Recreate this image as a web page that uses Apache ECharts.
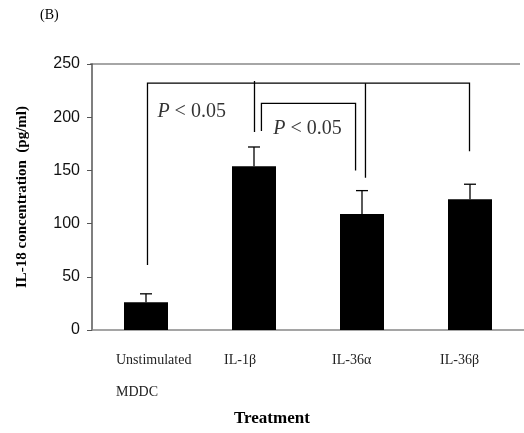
<!DOCTYPE html>
<html><head><meta charset="utf-8">
<script src="https://cdn.jsdelivr.net/npm/echarts@6/dist/echarts.min.js"></script>
<style>html,body{margin:0;background:#fff}#c{width:524px;height:433px}</style>
</head><body><div id="c"></div>
<script>
var categories = ['Unstimulated\nMDDC', 'IL-1β', 'IL-36α', 'IL-36β'];
var means = [26, 154, 109, 123];
var errTops = [34, 172, 131, 137];
var yTicks = [0, 50, 100, 150, 200, 250];
// brackets: [x in px-units across plot (0..436), value] point lists
var bracketBig = [[[56, 61], [56, 232], [381, 232], [381, 168]], [[164, 234], [164, 186]], [[276, 232], [276, 143]]];
var bracketSmall = [[[171, 187], [171, 213], [266, 213], [266, 150]]];
var pLabels = [[66, 205, 'P < 0.05'], [183, 189, 'P < 0.05']];

var myChart = echarts.init(document.getElementById('c'));
var serif = 'Liberation Serif';
var lineData = [];
bracketBig.concat(bracketSmall).forEach(function (l) { lineData.push({coords: l}); });

var option = {
    animation: false,
    grid: {left: 92, top: 64, bottom: 103, width: 436},
    xAxis: [{
        type: 'category', data: categories,
        axisLine: {lineStyle: {color: '#888', width: 1.5}},
        axisTick: {show: false},
        axisLabel: {fontFamily: serif, fontSize: 14, color: '#222', align: 'left', margin: 14, lineHeight: 32,
            padding: [0, 0, 0, -30], verticalAlign: 'top'}
    }, {
        type: 'value', min: 0, max: 436, show: false
    }],
    yAxis: {
        type: 'value', min: 0, max: 250, interval: 50,
        name: 'IL-18 concentration  (pg/ml)', nameLocation: 'middle', nameGap: 62,
        nameTextStyle: {fontFamily: serif, fontWeight: 'bold', fontSize: 15, color: '#000'},
        axisLine: {show: true, lineStyle: {color: '#555', width: 1.5}},
        axisTick: {show: true, length: 5, lineStyle: {color: '#555'}},
        axisLabel: {fontFamily: 'Liberation Sans', fontSize: 16, color: '#111', margin: 12,
            formatter: function (v) { return yTicks.indexOf(v) >= 0 ? v : ''; }},
        splitLine: {show: false}
    },
    series: [{
        type: 'bar', data: means, barWidth: 44,
        itemStyle: {color: '#000'}
    }, {
        type: 'custom',
        data: means.map(function (m, i) { return [i, m, errTops[i]]; }),
        renderItem: function (params, api) {
            var b = api.coord([api.value(0), api.value(1)]);
            var t = api.coord([api.value(0), api.value(2)]);
            var st = {stroke: '#000', lineWidth: 1.3};
            return {type: 'group', children: [
                {type: 'line', shape: {x1: b[0], y1: b[1], x2: t[0], y2: t[1]}, style: st},
                {type: 'line', shape: {x1: t[0] - 6, y1: t[1], x2: t[0] + 6, y2: t[1]}, style: st}
            ]};
        }, z: 3
    }, {
        type: 'lines', coordinateSystem: 'cartesian2d', xAxisIndex: 1, polyline: true,
        data: lineData, lineStyle: {color: '#000', width: 1.3, opacity: 1}, silent: true
    }, {
        type: 'scatter', xAxisIndex: 1, symbolSize: 0,
        data: pLabels.map(function (p) { return {value: [p[0], p[1]], name: p[2]}; }),
        label: {show: true, position: 'right', distance: 0, formatter: function (p) { return p.name.replace('P', '{i|P}'); },
            fontFamily: serif, fontSize: 20, color: '#000',
            rich: {i: {fontFamily: serif, fontStyle: 'italic', fontSize: 20, color: '#000'}}}
    }],
    graphic: [
        {type: 'line', shape: {x1: 90, y1: 64, x2: 520, y2: 64}, style: {stroke: '#888', lineWidth: 1.5}},
        {type: 'text', left: 40, top: 8, style: {text: '(B)', font: '14px "Liberation Serif"', fill: '#000'}},
        {type: 'text', left: 234, top: 410, style: {text: 'Treatment', font: 'bold 17px "Liberation Serif"', fill: '#000'}}
    ]
};
myChart.setOption(option);
</script></body></html>
